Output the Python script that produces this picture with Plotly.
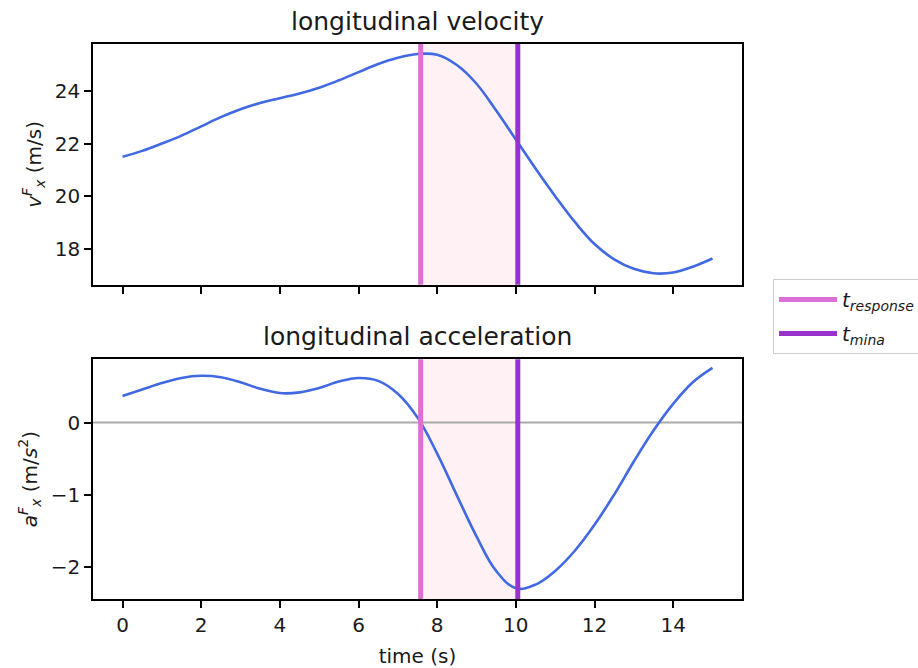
import plotly.graph_objects as go

# ---- data ----
time_s = [0.0, 0.5, 1.0, 1.5, 2.0, 2.5, 3.0, 3.5, 4.0, 4.5, 5.0, 5.5, 6.0, 6.5, 7.0, 7.5,
          8.0, 8.5, 9.0, 9.5, 10.0, 10.5, 11.0, 11.5, 12.0, 12.5, 13.0, 13.5, 14.0, 14.5, 15.0]
velocity = [21.50, 21.72, 22.00, 22.30, 22.65, 23.00, 23.30, 23.54, 23.72, 23.90, 24.12,
            24.40, 24.71, 25.02, 25.26, 25.40, 25.37, 24.98, 24.27, 23.25, 22.15, 21.05,
            20.00, 19.02, 18.18, 17.60, 17.24, 17.07, 17.10, 17.32, 17.63]
acceleration = [0.37, 0.46, 0.55, 0.62, 0.65, 0.63, 0.56, 0.47, 0.41, 0.42, 0.48, 0.57,
                0.62, 0.58, 0.40, 0.07, -0.43, -1.01, -1.58, -2.06, -2.30, -2.25, -2.06,
                -1.78, -1.42, -1.00, -0.54, -0.11, 0.26, 0.56, 0.76]
event_labels = ["<i>t</i><sub><i>response</i></sub>", "<i>t</i><sub><i>mina</i></sub>"]
event_times = [7.58, 10.05]
event_colors = ["#DA70D6", "#9932CC"]
x_ticks = [0, 2, 4, 6, 8, 10, 12, 14]
v_ticks = [18, 20, 22, 24]
a_ticks = [-2, -1, 0]

FONT = "DejaVu Sans"
TXT = "#1a1a1a"
BLUE = "#4169E1"

fig = go.Figure()
fig.add_trace(go.Scatter(x=time_s, y=velocity, xaxis="x", yaxis="y", mode="lines",
                         line=dict(color=BLUE, width=2.6, shape="spline", smoothing=1.1),
                         showlegend=False, hoverinfo="x+y"))
fig.add_trace(go.Scatter(x=time_s, y=acceleration, xaxis="x2", yaxis="y2", mode="lines",
                         line=dict(color=BLUE, width=2.6, shape="spline", smoothing=1.1),
                         showlegend=False, hoverinfo="x+y"))
# legend entries for the event lines
for lab, col in zip(event_labels, event_colors):
    fig.add_trace(go.Scatter(x=[None], y=[None], mode="lines", name=lab,
                             line=dict(color=col, width=5), xaxis="x", yaxis="y",
                             legendgroup=lab))

shapes = []
for yr, xr in (("y", "x"), ("y2", "x2")):
    # shaded response window
    shapes.append(dict(type="rect", xref=xr, yref=yr + " domain", x0=event_times[0],
                       x1=event_times[1], y0=0, y1=1, fillcolor="rgba(255,192,203,0.22)",
                       line=dict(width=0), layer="below"))
shapes.append(dict(type="line", xref="x2 domain", yref="y2", x0=0, x1=1, y0=0, y1=0,
                   line=dict(color="#A9A9A9", width=2), layer="below"))
for yr, xr in (("y", "x"), ("y2", "x2")):
    for t, col in zip(event_times, event_colors):
        shapes.append(dict(type="line", xref=xr, yref=yr + " domain", x0=t, x1=t, y0=0, y1=1,
                           line=dict(color=col, width=5), layer="above"))

axis_common = dict(showline=True, mirror=True, linecolor="black", linewidth=1.5,
                   ticks="outside", ticklen=7, tickwidth=1.5, tickcolor="black",
                   showgrid=False, zeroline=False, automargin=False,
                   tickfont=dict(family=FONT, size=20, color=TXT))

fig.update_layout(
    width=918, height=668,
    margin=dict(l=93, r=176, t=44, b=69, autoexpand=False),
    paper_bgcolor="white", plot_bgcolor="white",
    font=dict(family=FONT, size=20, color=TXT),
    shapes=shapes,
    xaxis=dict(domain=[0, 1], anchor="y", range=[-0.75, 15.75], tickvals=x_ticks,
               showticklabels=False, matches="x2", **axis_common),
    xaxis2=dict(domain=[0, 1], anchor="y2", range=[-0.75, 15.75], tickvals=x_ticks,
                title=dict(text="time (s)", font=dict(family=FONT, size=20, color=TXT), standoff=14),
                **axis_common),
    yaxis=dict(domain=[0.566, 1.0], anchor="x", range=[16.63, 25.78], tickvals=v_ticks,
               title=dict(text="<i>v</i><sup><i>F</i></sup><sub><i>x</i></sub> (m/s)",
                          font=dict(family=FONT, size=20, color=TXT), standoff=8),
               **axis_common),
    yaxis2=dict(domain=[0.0, 0.432], anchor="x2", range=[-2.45, 0.88], tickvals=a_ticks,
                tickformat="d",
                title=dict(text="<i>a</i><sup><i>F</i></sup><sub><i>x</i></sub> (m/<i>s</i><sup>2</sup>)",
                           font=dict(family=FONT, size=20, color=TXT), standoff=8),
                **axis_common),
    legend=dict(x=1.0478, y=0.5766, xanchor="left", yanchor="top",
                bgcolor="white", bordercolor="#cccccc", borderwidth=1,
                itemwidth=58,
                font=dict(family=FONT, size=20, color=TXT), tracegroupgap=5),
    annotations=[
        dict(text="longitudinal velocity", xref="x domain", yref="y domain", x=0.5, y=1,
             xanchor="center", yanchor="bottom", yshift=6, showarrow=False,
             font=dict(family=FONT, size=25, color=TXT)),
        dict(text="longitudinal acceleration", xref="x2 domain", yref="y2 domain", x=0.5, y=1,
             xanchor="center", yanchor="bottom", yshift=6, showarrow=False,
             font=dict(family=FONT, size=25, color=TXT)),
    ],
)

fig.write_html("out.html")
